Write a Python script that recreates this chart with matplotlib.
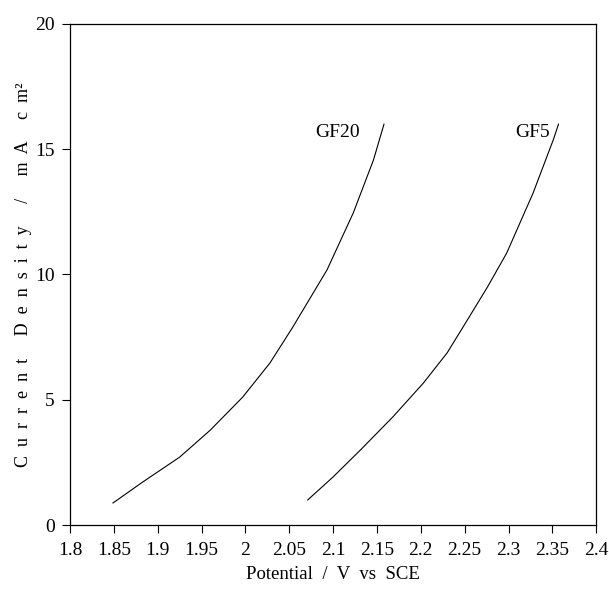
import matplotlib
matplotlib.use("Agg")
import matplotlib.pyplot as plt

# values
gf20_potential = [1.849, 1.883, 1.925, 1.960, 1.997, 2.028, 2.054, 2.093, 2.123, 2.146, 2.158]
gf20_current = [0.88, 1.72, 2.71, 3.79, 5.11, 6.47, 7.90, 10.18, 12.46, 14.57, 16.0]

gf5_potential = [2.071, 2.100, 2.131, 2.168, 2.203, 2.230, 2.253, 2.276, 2.298, 2.328, 2.351, 2.357]
gf5_current = [1.0, 1.92, 2.99, 4.31, 5.67, 6.87, 8.18, 9.50, 10.86, 13.25, 15.37, 16.0]

x_ticks = [1.8, 1.85, 1.9, 1.95, 2.0, 2.05, 2.1, 2.15, 2.2, 2.25, 2.3, 2.35, 2.4]
x_tick_labels = ["1.8", "1.85", "1.9", "1.95", "2", "2.05", "2.1", "2.15", "2.2", "2.25", "2.3", "2.35", "2.4"]
y_ticks = [0, 5, 10, 15, 20]

labels = ["GF20", "GF5"]
label_pos = [(2.105, 15.65), (2.327, 15.65)]


def spaced(text):
  # the scanned label has wide letter spacing
  return "  ".join(text)


plt.rcParams["font.family"] = ["Liberation Serif", "DejaVu Serif"]

fig = plt.figure(figsize=(6.09, 5.99), dpi=100)
ax = fig.add_axes([0.115, 0.1235, 0.864, 0.8365])

ax.plot(gf20_potential, gf20_current, color="black", linewidth=0.8)
ax.plot(gf5_potential, gf5_current, color="black", linewidth=0.8)

for text, (x, y) in zip(labels, label_pos):
  ax.text(x, y, text, fontsize=14, ha="center", va="center")

ax.set_xlim(1.8, 2.4)
ax.set_ylim(0, 20)
ax.set_xticks(x_ticks)
ax.set_xticklabels(x_tick_labels)
ax.set_yticks(y_ticks)
ax.tick_params(axis="both", direction="out", length=6, width=0.8, labelsize=14)
ax.tick_params(axis="x", pad=6)
ax.tick_params(axis="y", pad=5)
for spine in ax.spines.values():
  spine.set_linewidth(0.9)

ax.set_xlabel("Potential  /  V  vs  SCE", fontsize=13.5, labelpad=5)
ylabel = (spaced("Current") + "     " + spaced("Density") + "     /     "
          + spaced("mA") + "     " + spaced("cm") + "\u00b2")
ax.set_ylabel(ylabel, fontsize=13, labelpad=2)

fig.savefig("out.png", dpi=100)
